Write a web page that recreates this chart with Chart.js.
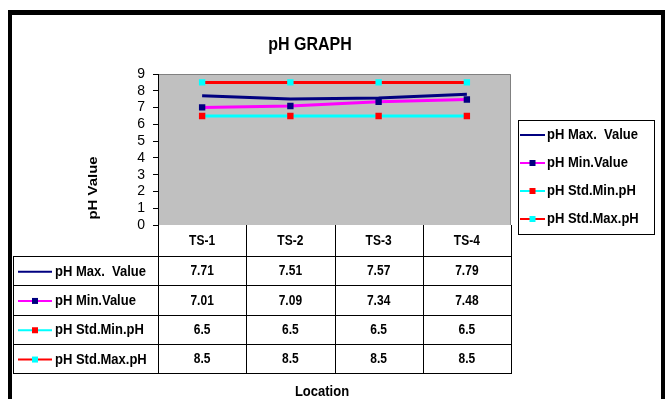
<!DOCTYPE html>
<html>
<head>
<meta charset="utf-8">
<script src="https://cdn.jsdelivr.net/npm/chart.js@4"></script>
<style>
  body { margin: 0; background: #fff; }
  canvas { display: block; }
</style>
</head>
<body>
<canvas id="phChart" width="667" height="399"></canvas>
<script>
// chart data
var categories = ['TS-1', 'TS-2', 'TS-3', 'TS-4'];
var seriesNames = ['pH Max.  Value', 'pH Min.Value', 'pH Std.Min.pH', 'pH Std.Max.pH'];
var maxValues = [7.71, 7.51, 7.57, 7.79];
var minValues = [7.01, 7.09, 7.34, 7.48];
var stdMinValues = [6.5, 6.5, 6.5, 6.5];
var stdMaxValues = [8.5, 8.5, 8.5, 8.5];
var tableText = [
    ['7.71', '7.51', '7.57', '7.79'],
    ['7.01', '7.09', '7.34', '7.48'],
    ['6.5', '6.5', '6.5', '6.5'],
    ['8.5', '8.5', '8.5', '8.5']
];
var yMin = 0, yMax = 9, yStep = 1;

var FONT = '"Liberation Sans", Arial, sans-serif';

function drawKey(ctx, ds, x1, x2, y) {
    ctx.save();
    ctx.strokeStyle = ds.borderColor;
    ctx.lineWidth = 2;
    ctx.beginPath();
    ctx.moveTo(x1, y);
    ctx.lineTo(x2, y);
    ctx.stroke();
    if (ds.pointRadius > 0) {
        ctx.fillStyle = ds.pointBackgroundColor;
        ctx.fillRect((x1 + x2) / 2 - 3, y - 3, 6, 6);
    }
    ctx.restore();
}

function stretchText(ctx, text, x, y, align) {
    ctx.save();
    ctx.translate(x, y);
    ctx.scale(1, 1.15);
    ctx.textAlign = align;
    ctx.textBaseline = 'middle';
    ctx.fillText(text, 0, 0);
    ctx.restore();
}

var decorPlugin = {
    id: 'decor',
    beforeDraw: function(chart) {
        var ctx = chart.ctx;
        var a = chart.chartArea;
        ctx.save();
        ctx.fillStyle = '#c0c0c0';
        ctx.fillRect(a.left, a.top, a.right - a.left, a.bottom - a.top);
        ctx.strokeStyle = '#808080';
        ctx.lineWidth = 1;
        ctx.beginPath();
        ctx.moveTo(a.left, a.top + 0.5);
        ctx.lineTo(a.right - 0.5, a.top + 0.5);
        ctx.lineTo(a.right - 0.5, a.bottom);
        ctx.stroke();
        ctx.restore();
    },
    afterDraw: function(chart) {
        var ctx = chart.ctx;
        var a = chart.chartArea;
        var xs = chart.scales.x;
        var dsets = chart.data.datasets;
        var half = (a.right - a.left) / categories.length / 2;
        ctx.save();

        // outer frame
        ctx.fillStyle = '#000';
        ctx.fillRect(8, 10, 657, 5);
        ctx.fillRect(8, 10, 4, 389);
        ctx.fillRect(661, 10, 4, 389);

        // title
        ctx.fillStyle = '#000';
        ctx.font = 'bold 16px ' + FONT;
        stretchText(ctx, 'pH GRAPH', 310, 45, 'center');

        // y axis title
        ctx.save();
        ctx.translate(93, 188);
        ctx.rotate(-Math.PI / 2);
        ctx.scale(1.15, 1);
        ctx.font = 'bold 13px ' + FONT;
        ctx.textAlign = 'center';
        ctx.textBaseline = 'middle';
        ctx.fillText('pH Value', 0, 0);
        ctx.restore();

        // data table
        var headTop = a.bottom, headBot = a.bottom + 31;
        var rowH = 29.3;
        var tableBot = headBot + rowH * dsets.length;
        var tblLeft = 13;
        ctx.strokeStyle = '#000';
        ctx.lineWidth = 1;
        ctx.beginPath();
        for (var i = 0; i <= categories.length; i++) {
            var vx = Math.round(a.left + i * half * 2) + 0.5;
            ctx.moveTo(vx, headTop);
            ctx.lineTo(vx, tableBot);
        }
        ctx.moveTo(tblLeft + 0.5, headBot);
        ctx.lineTo(tblLeft + 0.5, tableBot);
        for (var r = 0; r <= dsets.length; r++) {
            var hy = Math.round(headBot + r * rowH) + 0.5;
            ctx.moveTo(tblLeft, hy);
            ctx.lineTo(a.right + 1, hy);
        }
        ctx.stroke();

        ctx.fillStyle = '#000';
        ctx.font = 'bold 12px ' + FONT;
        categories.forEach(function(c, i) {
            stretchText(ctx, c, xs.getPixelForValue(i), (headTop + headBot) / 2 + 1, 'center');
        });
        dsets.forEach(function(ds, r) {
            var cy = headBot + r * rowH + rowH / 2 + 1;
            drawKey(ctx, ds, 18, 52, cy);
            ctx.fillStyle = '#000';
            ctx.font = 'bold 13px ' + FONT;
            stretchText(ctx, ds.label, 55, cy, 'left');
            ctx.font = 'bold 12px ' + FONT;
            tableText[r].forEach(function(t, i) {
                stretchText(ctx, t, xs.getPixelForValue(i), cy, 'center');
            });
        });

        // location label
        ctx.font = 'bold 13px ' + FONT;
        stretchText(ctx, 'Location', 322, 392, 'center');

        // legend box
        ctx.fillStyle = '#fff';
        ctx.fillRect(518, 120, 136, 114);
        ctx.strokeStyle = '#000';
        ctx.strokeRect(518.5, 120.5, 136, 114);
        dsets.forEach(function(ds, r) {
            var ly = 135 + r * 28;
            drawKey(ctx, ds, 520, 545, ly);
            ctx.fillStyle = '#000';
            stretchText(ctx, ds.label, 547, ly, 'left');
        });
        ctx.restore();
    }
};

var ctx = document.getElementById('phChart').getContext('2d');
var phChart = new Chart(ctx, {
    type: 'line',
    data: {
        labels: categories,
        datasets: [{
            label: seriesNames[0],
            data: maxValues,
            borderColor: '#000080',
            borderWidth: 3,
            pointRadius: 0,
            pointHoverRadius: 0
        }, {
            label: seriesNames[1],
            data: minValues,
            borderColor: '#ff00ff',
            borderWidth: 3,
            pointStyle: 'rect',
            pointRadius: 4.5,
            pointBackgroundColor: '#000080',
            pointBorderColor: '#000080',
            pointBorderWidth: 0
        }, {
            label: seriesNames[2],
            data: stdMinValues,
            borderColor: '#00ffff',
            borderWidth: 3,
            pointStyle: 'rect',
            pointRadius: 4.5,
            pointBackgroundColor: '#ff0000',
            pointBorderColor: '#ff0000',
            pointBorderWidth: 0
        }, {
            label: seriesNames[3],
            data: stdMaxValues,
            borderColor: '#ff0000',
            borderWidth: 3,
            pointStyle: 'rect',
            pointRadius: 4.5,
            pointBackgroundColor: '#00ffff',
            pointBorderColor: '#00ffff',
            pointBorderWidth: 0
        }]
    },
    options: {
        responsive: false,
        animation: false,
        devicePixelRatio: 1,
        layout: { padding: { left: 128, right: 156, top: 74, bottom: 174 } },
        plugins: {
            legend: { display: false },
            title: { display: false },
            tooltip: { enabled: false }
        },
        elements: { line: { tension: 0 } },
        scales: {
            x: {
                type: 'category',
                display: false,
                offset: true
            },
            y: {
                min: yMin,
                max: yMax,
                afterFit: function(scale) { scale.width = 30; },
                ticks: {
                    stepSize: yStep,
                    autoSkip: false,
                    padding: 8,
                    color: '#000',
                    font: { family: FONT, size: 14 }
                },
                grid: {
                    drawOnChartArea: false,
                    drawTicks: true,
                    tickLength: 5,
                    color: '#000'
                },
                border: { display: true, color: '#000', width: 1 }
            }
        }
    },
    plugins: [decorPlugin]
});
</script>
</body>
</html>
